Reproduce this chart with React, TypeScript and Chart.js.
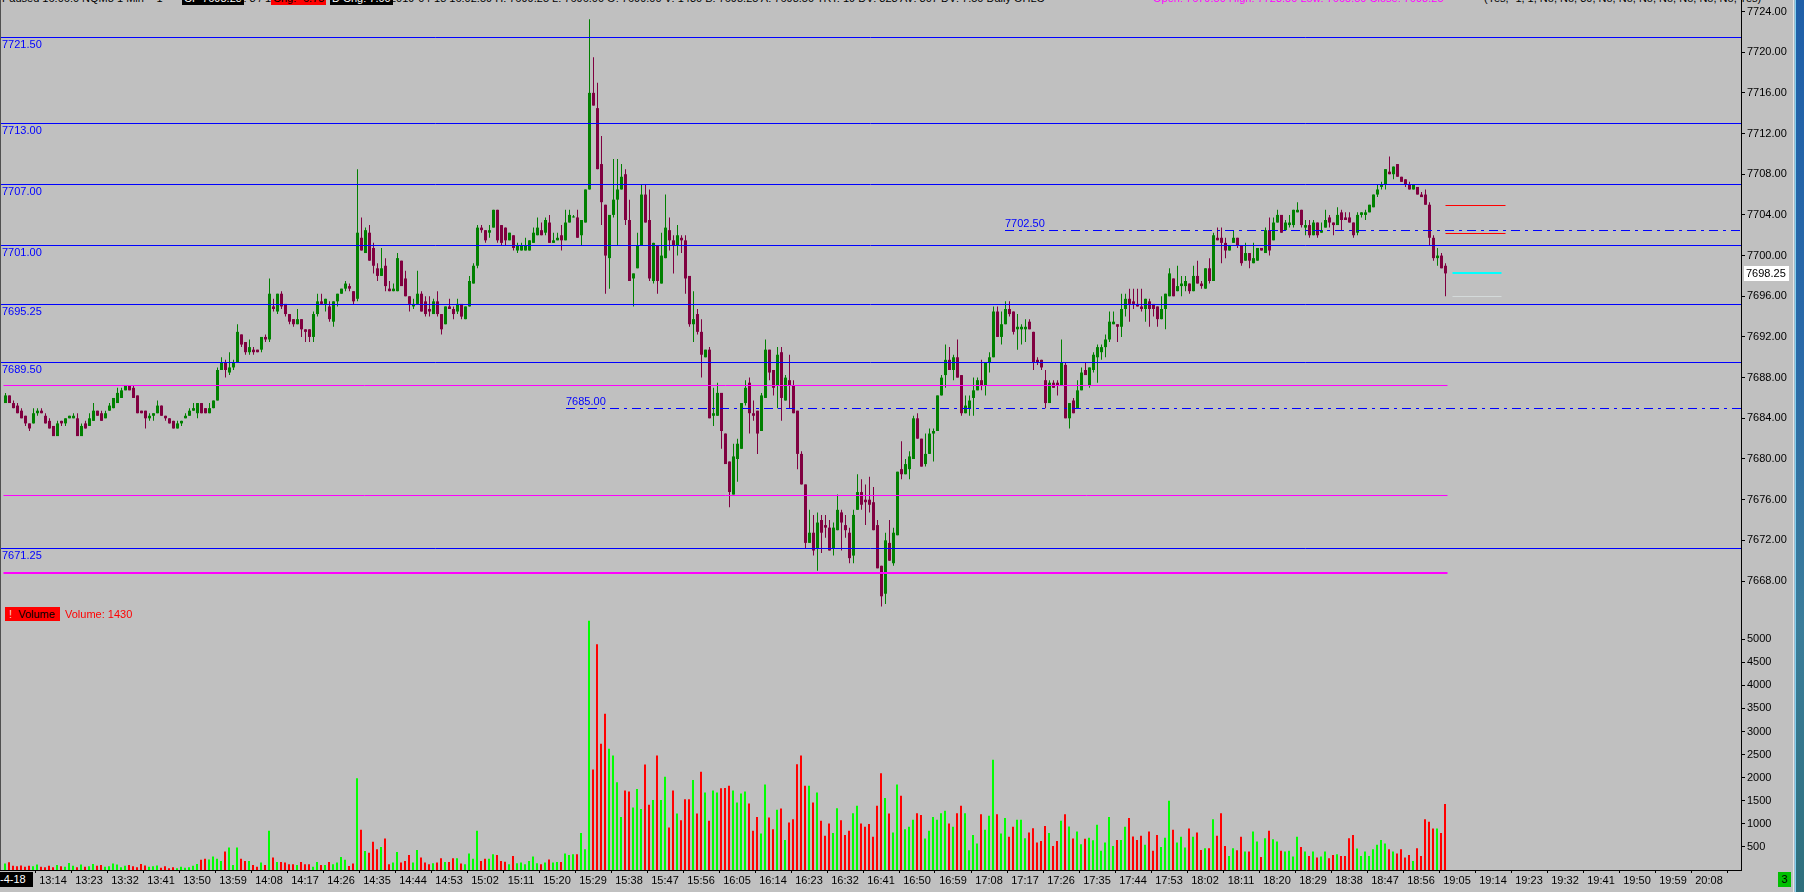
import React, { useEffect, useRef } from "react";
import { Chart, registerables } from "chart.js";

Chart.register(...registerables);

const FONT = "'Liberation Sans', Arial, sans-serif";

// ---------------- DATA ----------------
const firstBarTime = "13:02";

const opens = [
  7685.5, 7686.25, 7685.5, 7685.25, 7684.75, 7684.25, 7683.5, 7683.5, 7684.5, 7684.75,
  7684.25, 7683.75, 7683.25, 7682.25, 7683.75, 7683.5, 7684.0, 7684.0, 7684.0, 7682.25,
  7683.5, 7683.25, 7683.75, 7684.75, 7684.5, 7684.0, 7684.75, 7685.0, 7685.5, 7686.0,
  7686.75, 7687.25, 7687.0, 7686.25, 7684.75, 7684.75, 7684.0, 7684.25, 7684.5, 7685.25,
  7684.25, 7684.0, 7683.75, 7683.0, 7683.5, 7684.0, 7684.25, 7684.75, 7684.5, 7685.5,
  7685.0, 7684.5, 7685.0, 7685.75, 7688.75, 7689.5, 7688.5, 7689.0, 7689.5, 7692.25,
  7691.5, 7690.5, 7690.75, 7690.75, 7690.75, 7692.0, 7691.75, 7695.0, 7694.5, 7696.25,
  7695.25, 7694.25, 7693.75, 7693.25, 7693.75, 7692.75, 7692.75, 7692.0, 7694.25, 7695.5,
  7695.25, 7695.0, 7693.5, 7695.5, 7696.25, 7696.75, 7697.0, 7696.5, 7695.75, 7701.75,
  7700.25, 7702.25, 7700.75, 7698.75, 7698.0, 7699.0, 7696.75, 7696.5, 7696.5, 7699.5,
  7697.75, 7696.0, 7695.0, 7695.25, 7696.25, 7695.5, 7694.75, 7694.25, 7695.5, 7694.25,
  7693.25, 7695.0, 7694.75, 7694.5, 7695.25, 7693.75, 7695.0, 7697.25, 7699.0, 7702.75,
  7702.5, 7702.25, 7702.75, 7704.5, 7703.0, 7702.75, 7701.5, 7702.0, 7700.5, 7700.5,
  7700.5, 7700.5, 7701.25, 7702.0, 7702.5, 7702.25, 7703.25, 7701.25, 7701.5, 7702.0,
  7701.5, 7703.25, 7703.75, 7703.75, 7702.0, 7703.25, 7706.5, 7716.0, 7714.5, 7709.0,
  7705.0, 7699.75, 7704.0, 7705.5, 7706.5, 7708.0, 7703.5, 7697.75, 7698.75, 7701.0,
  7706.0, 7703.5, 7697.5, 7701.0, 7697.25, 7699.75, 7702.5, 7701.5, 7701.0, 7701.75,
  7701.5, 7698.0, 7693.25, 7694.25, 7692.5, 7690.0, 7690.75, 7684.25, 7684.25, 7686.5,
  7682.5, 7679.75, 7676.5, 7680.0, 7681.0, 7685.5, 7687.5, 7684.5, 7684.75, 7682.75,
  7686.0, 7690.75, 7688.75, 7687.25, 7690.5, 7685.75, 7687.75, 7687.25, 7684.75, 7680.5,
  7677.5, 7671.75, 7672.75, 7671.25, 7674.0, 7673.5, 7673.25, 7671.25, 7673.0, 7674.75,
  7673.5, 7672.75, 7670.5, 7675.0, 7676.75, 7676.0, 7676.0, 7675.75, 7673.5, 7669.5,
  7666.75, 7671.75, 7669.75, 7672.5, 7679.0, 7678.5, 7679.0, 7680.0, 7684.0, 7682.0,
  7679.5, 7680.5, 7682.5, 7682.75, 7686.25, 7688.25, 7689.75, 7688.75, 7690.0, 7688.25,
  7684.5, 7685.0, 7686.0, 7686.75, 7687.75, 7687.25, 7689.5, 7690.0, 7694.5, 7692.0,
  7693.25, 7694.75, 7694.5, 7692.75, 7692.75, 7692.75, 7693.5, 7692.5, 7689.75, 7689.75,
  7687.75, 7685.5, 7687.5, 7687.5, 7687.25, 7689.25, 7684.0, 7685.75, 7685.0, 7686.75,
  7688.75, 7687.25, 7688.75, 7690.0, 7690.5, 7691.0, 7691.75, 7693.25, 7693.25, 7693.0,
  7694.75, 7695.75, 7695.5, 7695.25, 7695.0, 7694.75, 7695.5, 7695.25, 7695.0, 7693.75,
  7694.75, 7696.0, 7697.75, 7696.5, 7697.0, 7697.0, 7697.25, 7696.5, 7698.0, 7697.25,
  7696.75, 7698.75, 7697.5, 7701.75, 7701.75, 7701.25, 7700.5, 7701.25, 7701.75, 7701.0,
  7699.5, 7700.25, 7699.25, 7699.5, 7700.75, 7700.25, 7702.5, 7701.5, 7703.25, 7704.0,
  7702.5, 7703.0, 7703.0, 7704.25, 7704.5, 7702.75, 7703.0, 7702.0, 7703.25, 7702.25,
  7702.75, 7703.75, 7703.25, 7703.0, 7704.25, 7703.75, 7703.75, 7703.25, 7702.25, 7704.0,
  7704.0, 7704.25, 7704.75, 7706.0, 7706.75, 7707.0, 7708.25, 7708.0, 7709.0, 7707.75,
  7707.5, 7707.0, 7706.5, 7706.75, 7706.0, 7706.0, 7705.0, 7701.75, 7699.75, 7700.0,
  7699.0,
];

const highs = [
  7686.5, 7686.25, 7685.75, 7685.5, 7685.0, 7684.25, 7683.5, 7685.0, 7685.0, 7685.0,
  7684.5, 7684.0, 7683.25, 7683.75, 7683.75, 7684.0, 7684.25, 7684.5, 7684.5, 7683.5,
  7683.75, 7684.5, 7685.5, 7684.75, 7684.75, 7684.75, 7685.5, 7686.0, 7687.0, 7687.0,
  7687.25, 7687.25, 7687.25, 7686.25, 7684.75, 7684.75, 7684.5, 7684.5, 7685.75, 7685.25,
  7684.25, 7684.0, 7683.75, 7683.75, 7683.75, 7684.5, 7685.0, 7685.5, 7685.5, 7685.5,
  7685.0, 7685.5, 7685.75, 7689.0, 7690.0, 7689.75, 7690.5, 7689.75, 7693.25, 7692.25,
  7691.5, 7691.75, 7691.0, 7690.75, 7692.0, 7692.25, 7697.75, 7695.75, 7696.25, 7696.5,
  7695.25, 7694.25, 7693.75, 7694.75, 7693.75, 7692.75, 7692.75, 7694.5, 7696.25, 7696.25,
  7695.75, 7695.5, 7695.5, 7696.25, 7696.75, 7697.5, 7697.25, 7696.5, 7708.5, 7703.75,
  7702.75, 7703.0, 7701.25, 7699.25, 7700.75, 7699.75, 7697.5, 7697.25, 7700.25, 7699.5,
  7698.5, 7696.0, 7695.75, 7698.5, 7696.5, 7696.0, 7696.0, 7695.75, 7696.5, 7694.25,
  7695.0, 7695.75, 7695.0, 7695.75, 7695.25, 7695.0, 7698.0, 7699.25, 7703.0, 7703.0,
  7702.5, 7703.0, 7704.5, 7704.5, 7703.0, 7702.75, 7702.25, 7702.0, 7701.25, 7701.25,
  7701.75, 7701.5, 7702.75, 7703.75, 7703.25, 7703.75, 7704.0, 7702.25, 7702.25, 7703.0,
  7704.5, 7704.5, 7704.0, 7704.5, 7703.5, 7706.5, 7723.25, 7719.5, 7717.0, 7711.75,
  7705.0, 7704.0, 7709.5, 7709.5, 7709.0, 7708.5, 7705.5, 7698.25, 7702.25, 7707.0,
  7707.0, 7706.5, 7701.25, 7701.0, 7702.25, 7706.0, 7703.75, 7702.0, 7703.0, 7702.0,
  7702.0, 7698.0, 7696.5, 7694.75, 7693.75, 7690.75, 7691.0, 7687.0, 7687.5, 7686.5,
  7682.5, 7679.75, 7681.5, 7682.0, 7685.5, 7687.75, 7688.0, 7685.75, 7684.75, 7686.5,
  7691.75, 7690.75, 7688.75, 7691.0, 7691.0, 7688.25, 7690.25, 7687.75, 7684.75, 7680.75,
  7677.5, 7675.0, 7674.5, 7674.75, 7674.5, 7674.5, 7674.0, 7673.75, 7676.5, 7675.0,
  7674.5, 7673.25, 7675.0, 7678.5, 7678.0, 7677.5, 7678.25, 7677.25, 7674.0, 7669.5,
  7672.75, 7674.0, 7673.25, 7678.75, 7681.75, 7680.0, 7680.75, 7684.25, 7684.5, 7682.0,
  7682.5, 7683.0, 7683.0, 7686.25, 7688.25, 7691.25, 7691.0, 7690.25, 7691.75, 7688.25,
  7686.25, 7686.25, 7688.0, 7688.0, 7689.75, 7689.5, 7690.5, 7695.0, 7695.0, 7694.5,
  7695.5, 7695.5, 7694.5, 7694.25, 7693.25, 7693.75, 7693.75, 7692.5, 7690.0, 7689.75,
  7688.75, 7687.75, 7687.75, 7687.75, 7691.75, 7689.5, 7685.5, 7686.0, 7687.75, 7689.0,
  7689.5, 7689.0, 7690.5, 7691.25, 7691.25, 7692.25, 7694.5, 7694.5, 7693.25, 7696.25,
  7696.25, 7696.75, 7696.75, 7696.75, 7696.75, 7695.75, 7695.75, 7695.25, 7695.0, 7696.0,
  7696.25, 7698.75, 7697.75, 7699.0, 7698.0, 7698.0, 7697.25, 7699.0, 7699.5, 7697.5,
  7698.75, 7699.75, 7702.25, 7702.75, 7702.75, 7701.75, 7701.0, 7702.5, 7701.75, 7701.0,
  7701.25, 7700.25, 7701.25, 7700.75, 7700.75, 7702.75, 7703.75, 7703.75, 7704.5, 7704.0,
  7703.5, 7704.0, 7704.5, 7705.25, 7704.5, 7703.5, 7703.5, 7703.5, 7703.25, 7703.25,
  7704.5, 7704.0, 7703.25, 7704.75, 7704.5, 7704.25, 7704.25, 7703.25, 7704.25, 7704.25,
  7704.5, 7705.0, 7706.0, 7707.0, 7707.25, 7708.5, 7709.75, 7708.75, 7709.0, 7707.75,
  7707.5, 7707.25, 7707.0, 7706.75, 7706.25, 7706.5, 7705.25, 7702.0, 7700.75, 7700.25,
  7699.25,
];

const lows = [
  7685.5, 7685.5, 7685.0, 7684.5, 7684.0, 7683.25, 7682.75, 7683.5, 7684.25, 7684.5,
  7683.5, 7683.0, 7682.25, 7682.25, 7683.25, 7683.25, 7684.0, 7684.0, 7682.25, 7682.25,
  7683.0, 7683.25, 7683.75, 7684.25, 7683.75, 7684.0, 7684.75, 7685.0, 7685.5, 7686.0,
  7686.75, 7686.75, 7686.0, 7684.5, 7684.5, 7683.0, 7683.75, 7683.75, 7684.5, 7684.25,
  7683.75, 7683.5, 7683.0, 7683.0, 7683.25, 7684.0, 7684.25, 7684.75, 7684.0, 7684.5,
  7684.5, 7684.5, 7685.0, 7685.75, 7688.75, 7688.0, 7688.25, 7688.75, 7689.5, 7691.0,
  7690.25, 7690.25, 7690.25, 7690.5, 7690.5, 7691.5, 7691.5, 7694.5, 7694.25, 7694.75,
  7694.0, 7693.25, 7693.0, 7693.25, 7692.0, 7691.5, 7691.5, 7691.5, 7694.0, 7695.25,
  7694.5, 7693.5, 7693.0, 7695.0, 7696.25, 7696.5, 7696.5, 7695.25, 7695.5, 7700.5,
  7700.25, 7699.5, 7698.25, 7697.5, 7698.0, 7696.5, 7696.5, 7696.5, 7696.5, 7697.0,
  7696.0, 7694.5, 7694.75, 7695.25, 7694.5, 7694.0, 7694.0, 7694.25, 7694.0, 7692.25,
  7693.25, 7694.75, 7693.75, 7694.25, 7693.75, 7693.75, 7695.0, 7697.25, 7698.75, 7702.25,
  7701.25, 7701.75, 7702.75, 7701.25, 7701.0, 7701.0, 7701.5, 7700.5, 7700.25, 7700.5,
  7700.5, 7700.5, 7701.25, 7702.0, 7702.0, 7702.0, 7701.25, 7701.25, 7701.5, 7700.5,
  7701.5, 7703.25, 7703.75, 7701.75, 7701.0, 7703.25, 7706.5, 7714.75, 7708.5, 7703.0,
  7696.25, 7696.75, 7703.75, 7701.0, 7706.5, 7703.0, 7697.5, 7695.0, 7698.75, 7701.0,
  7703.25, 7697.5, 7697.25, 7696.25, 7697.25, 7699.75, 7700.5, 7698.25, 7700.0, 7700.25,
  7696.25, 7693.0, 7691.5, 7692.25, 7688.0, 7690.0, 7684.0, 7683.25, 7684.25, 7681.0,
  7679.5, 7675.25, 7676.5, 7677.75, 7681.0, 7685.25, 7682.5, 7683.75, 7680.5, 7682.75,
  7686.0, 7687.75, 7686.25, 7685.0, 7683.75, 7685.75, 7685.0, 7684.5, 7679.0, 7677.5,
  7671.25, 7671.75, 7670.5, 7669.0, 7670.75, 7672.25, 7671.0, 7670.5, 7673.0, 7671.0,
  7672.25, 7669.75, 7669.75, 7675.0, 7675.0, 7673.5, 7674.75, 7673.0, 7669.25, 7665.5,
  7665.75, 7670.0, 7669.5, 7672.5, 7678.0, 7678.5, 7678.0, 7680.0, 7682.0, 7679.25,
  7679.25, 7680.5, 7679.75, 7682.75, 7686.25, 7687.0, 7688.75, 7687.75, 7688.0, 7684.25,
  7684.5, 7684.25, 7684.25, 7686.75, 7686.75, 7686.25, 7688.5, 7690.0, 7692.0, 7691.25,
  7693.25, 7694.0, 7692.25, 7690.75, 7691.25, 7691.5, 7692.75, 7688.75, 7689.25, 7688.75,
  7685.0, 7685.5, 7687.0, 7686.25, 7687.25, 7684.0, 7683.0, 7684.5, 7685.0, 7686.75,
  7688.25, 7687.0, 7688.5, 7687.5, 7689.75, 7690.0, 7691.5, 7693.25, 7691.5, 7692.0,
  7694.0, 7693.5, 7694.75, 7695.0, 7694.5, 7693.5, 7693.0, 7694.0, 7693.0, 7693.75,
  7692.75, 7696.0, 7696.0, 7696.5, 7696.0, 7696.5, 7696.25, 7696.5, 7697.25, 7696.75,
  7696.75, 7697.25, 7697.5, 7701.5, 7699.25, 7699.75, 7700.5, 7701.25, 7700.75, 7699.0,
  7699.5, 7698.75, 7699.25, 7699.5, 7700.5, 7700.25, 7700.0, 7701.5, 7703.25, 7702.25,
  7702.5, 7702.75, 7702.75, 7704.25, 7702.75, 7702.0, 7701.75, 7702.0, 7701.75, 7702.25,
  7702.75, 7702.75, 7702.0, 7703.0, 7702.5, 7703.5, 7703.25, 7701.75, 7702.0, 7703.75,
  7703.5, 7704.25, 7704.75, 7705.75, 7706.5, 7706.5, 7708.0, 7707.5, 7707.75, 7707.25,
  7706.75, 7706.5, 7706.5, 7706.0, 7705.75, 7705.0, 7701.0, 7699.5, 7699.0, 7698.75,
  7696.0,
];

const closes = [
  7686.25, 7685.5, 7685.0, 7684.5, 7684.0, 7683.5, 7683.0, 7684.5, 7684.75, 7684.5,
  7683.5, 7683.0, 7682.25, 7683.5, 7683.5, 7684.0, 7684.25, 7684.25, 7682.25, 7683.25,
  7683.0, 7684.0, 7684.75, 7684.25, 7683.75, 7684.5, 7685.25, 7686.0, 7686.5, 7686.75,
  7687.25, 7686.75, 7686.0, 7684.5, 7684.5, 7684.0, 7684.25, 7684.5, 7685.25, 7684.25,
  7684.0, 7683.5, 7683.0, 7683.5, 7683.75, 7684.25, 7684.75, 7685.0, 7685.5, 7684.5,
  7684.5, 7685.0, 7685.75, 7688.75, 7689.5, 7688.75, 7689.0, 7689.5, 7692.5, 7691.25,
  7690.5, 7691.0, 7690.5, 7690.5, 7692.0, 7691.75, 7696.25, 7694.75, 7696.25, 7695.0,
  7694.25, 7693.5, 7693.25, 7693.75, 7692.75, 7692.5, 7692.0, 7694.25, 7695.5, 7695.25,
  7695.75, 7693.75, 7695.5, 7696.25, 7696.75, 7697.25, 7696.75, 7695.5, 7702.25, 7700.5,
  7702.5, 7699.5, 7699.0, 7698.0, 7698.75, 7697.0, 7696.5, 7696.75, 7699.75, 7697.0,
  7696.0, 7695.25, 7695.25, 7696.25, 7694.5, 7694.25, 7694.5, 7695.5, 7694.25, 7692.75,
  7695.0, 7694.75, 7694.25, 7695.25, 7694.0, 7695.0, 7697.5, 7699.0, 7702.75, 7702.5,
  7701.5, 7702.5, 7704.5, 7701.5, 7701.25, 7701.5, 7702.25, 7700.75, 7701.0, 7701.0,
  7701.0, 7701.5, 7702.25, 7702.75, 7702.0, 7703.5, 7701.25, 7701.5, 7701.75, 7701.5,
  7703.25, 7704.0, 7703.75, 7701.75, 7703.5, 7706.5, 7716.0, 7714.75, 7708.5, 7705.25,
  7700.0, 7704.0, 7705.5, 7706.5, 7707.75, 7703.5, 7697.5, 7698.25, 7701.0, 7706.0,
  7703.25, 7697.75, 7701.25, 7697.5, 7700.0, 7702.75, 7701.5, 7701.0, 7702.0, 7701.5,
  7697.75, 7693.25, 7693.75, 7692.5, 7690.25, 7690.75, 7684.0, 7684.5, 7686.5, 7682.75,
  7679.5, 7676.75, 7680.25, 7681.5, 7685.5, 7687.0, 7684.5, 7684.25, 7682.5, 7686.25,
  7690.75, 7688.5, 7687.0, 7690.25, 7686.0, 7688.0, 7687.25, 7684.5, 7680.5, 7677.5,
  7671.75, 7672.75, 7671.0, 7673.75, 7672.75, 7673.25, 7671.0, 7673.25, 7675.0, 7673.75,
  7673.0, 7670.25, 7674.5, 7676.75, 7675.5, 7675.75, 7675.5, 7673.0, 7669.25, 7666.5,
  7672.0, 7670.0, 7672.75, 7678.75, 7678.5, 7679.5, 7680.25, 7684.0, 7682.0, 7679.25,
  7680.5, 7682.5, 7682.75, 7686.25, 7688.0, 7689.75, 7688.75, 7690.0, 7688.0, 7684.5,
  7685.25, 7685.75, 7686.75, 7687.75, 7687.25, 7689.5, 7690.0, 7694.5, 7692.0, 7693.25,
  7694.75, 7694.25, 7692.5, 7693.0, 7693.0, 7693.0, 7692.75, 7689.5, 7689.5, 7689.0,
  7685.5, 7687.5, 7687.0, 7687.25, 7689.5, 7684.0, 7685.5, 7684.5, 7686.75, 7688.5,
  7688.25, 7689.0, 7690.25, 7691.0, 7691.0, 7691.75, 7693.5, 7693.5, 7693.0, 7694.75,
  7695.75, 7695.25, 7695.25, 7695.0, 7694.75, 7695.75, 7694.75, 7694.75, 7693.75, 7694.75,
  7696.25, 7698.25, 7696.0, 7697.0, 7697.25, 7697.5, 7696.5, 7698.0, 7697.25, 7697.0,
  7698.75, 7697.5, 7702.0, 7701.5, 7701.25, 7700.5, 7701.0, 7701.75, 7701.0, 7699.25,
  7700.25, 7699.5, 7699.75, 7700.75, 7700.5, 7702.5, 7700.5, 7703.25, 7704.0, 7702.25,
  7703.25, 7703.25, 7704.5, 7704.5, 7703.0, 7703.0, 7702.0, 7703.25, 7702.0, 7702.5,
  7703.5, 7703.25, 7703.0, 7704.0, 7703.5, 7703.5, 7703.25, 7702.0, 7704.0, 7704.25,
  7704.25, 7705.0, 7706.0, 7706.5, 7707.0, 7708.5, 7708.0, 7708.75, 7707.75, 7707.25,
  7707.0, 7706.5, 7707.0, 7706.0, 7705.75, 7705.0, 7701.75, 7699.75, 7700.0, 7698.75,
  7698.25,
];

const volumes = [
  140, 170, 90, 80, 100, 70, 90, 80, 120, 70,
  60, 90, 60, 110, 80, 70, 150, 90, 60, 120,
  70, 80, 130, 90, 110, 70, 80, 140, 120, 60,
  90, 110, 80, 60, 130, 100, 70, 80, 100, 50,
  80, 40, 60, 40, 70, 50, 60, 90, 130,
  220, 245, 230, 290, 245, 195, 400, 485, 110, 485,
  245, 195, 195, 110, 70, 160, 110, 850, 270, 175,
  175, 160, 125, 125, 110, 175, 125, 125, 70, 175,
  110, 110, 175, 125, 160, 280, 220, 85, 140, 1990,
  870, 410, 375, 610, 450, 500, 680, 125, 160, 390,
  160, 195, 325, 160, 435, 270, 160, 125, 145, 160,
  255, 175, 175, 255, 255, 140, 125, 360, 245, 850,
  195, 245, 245, 340, 325, 195, 180, 125, 305, 145,
  160, 125, 195, 290, 145, 125, 160, 230, 160, 175,
  175, 360, 325, 340, 340, 800, 450,
  5400, 2175, 4890, 2735, 3385, 2625, 2480, 1900, 1150, 1720,
  1700, 1355, 1755, 1320, 2285, 1415, 1515, 2480, 1515, 2020,
  920, 1720, 1225, 1080, 1535, 1535, 1950, 1225, 2130, 1680,
  1065, 1720, 1680, 1770, 1775, 1825, 1720, 1465, 1660, 1700,
  1440, 850, 1150, 790, 1850, 1140, 885, 1305, 1335, 650,
  1030, 1100, 2290, 2480, 1825, 1825, 1465, 1680, 1065, 740,
  1010, 800, 1340, 1080, 760, 850, 1230, 1390, 1010, 935,
  995, 720, 1390, 2095, 1560, 1225, 810, 1850, 1610, 885,
  935, 1090, 1230, 1190, 680, 850, 1150, 1090, 1230, 1285,
  1010, 935, 1230, 1390, 1230, 430, 760, 575, 1210, 870,
  1175, 2390, 1210, 790, 1125, 720, 935, 1090, 1090, 690,
  810, 905, 595, 630, 955, 800, 520, 630, 1065, 1210,
  940, 680, 835, 560, 675, 700, 645, 980, 415, 595,
  1150, 520, 650, 650, 935, 1125, 725, 650, 740, 545,
  835, 415, 760, 500, 700, 1500, 870, 595, 720, 485,
  900, 720, 810, 435, 470, 470, 1100, 740, 1230, 520,
  305, 470, 430, 720, 400, 400, 835, 615, 280, 690,
  850, 665, 615, 415, 400, 415, 290, 720, 500, 400,
  305, 400, 270, 290, 400, 255, 325, 340, 305, 305,
  690, 760, 465, 305, 400, 305, 450, 545, 650, 575,
  450, 400, 355, 450, 270, 325, 195, 470, 305, 1100,
  1045, 900, 900, 800, 1430,
];

const timeTicks = [
  "13:14", "13:23", "13:32", "13:41", "13:50", "13:59", "14:08", "14:17", "14:26", "14:35",
  "14:44", "14:53", "15:02", "15:11", "15:20", "15:29", "15:38", "15:47", "15:56", "16:05",
  "16:14", "16:23", "16:32", "16:41", "16:50", "16:59", "17:08", "17:17", "17:26", "17:35",
  "17:44", "17:53", "18:02", "18:11", "18:20", "18:29", "18:38", "18:47", "18:56", "19:05",
  "19:14", "19:23", "19:32", "19:41", "19:50", "19:59", "20:08",
];
const priceTicks = [7668, 7672, 7676, 7680, 7684, 7688, 7692, 7696, 7700, 7704, 7708, 7712, 7716, 7720, 7724];
const volumeTicks = [500, 1000, 1500, 2000, 2500, 3000, 3500, 4000, 4500, 5000];

const blueLevels = [7721.5, 7713.0, 7707.0, 7701.0, 7695.25, 7689.5, 7671.25];
const dashDotLevels = [7702.5, 7685.0];
const dashDotStarts = ["17:12", "15:22"];
const magentaLevels = [7687.25, 7676.5, 7668.75];
const redMarkers = [7705.0, 7702.25];
const cyanMarkers = [7698.25, 7696.0];
const lastVolume = 1430;

// ---------------- LAYOUT / STYLE ----------------
const W = 1793;
const PLOT_RIGHT = 1741;
const AXIS_W = W - PLOT_RIGHT;
const PRICE_H = 607;
const VOL_TOP = 600;
const VOL_H = 292;
const XAXIS_H = 22;
const X_MIN = 0.625;
const X_MAX = 435.875;
const P_MAX = 7725.131;
const P_MIN = 7665.446;
const V_MAX = 5850;

const BG = "#c0c0c0";
const UP = "#008000";
const DOWN = "#800040";
const VUP = "#00ff00";
const VDOWN = "#ff0000";
const BLUE = "#0000ff";
const MAGENTA = "#ff00ff";

function toMin(t: string): number {
  const [h, m] = t.split(":").map(Number);
  return (h - 13) * 60 + m;
}

const start = toMin(firstBarTime);
const isUp = opens.map((o, i) => closes[i] >= o);

const priceOverlay = {
  id: "priceOverlay",
  afterDatasetsDraw(chart: any) {
    const { ctx, chartArea: ca, scales } = chart;
    const xs = scales.x;
    const ys = scales.y;
    const py = (p: number) => Math.round(ys.getPixelForValue(p)) + 0.5;
    const px = (m: number) => xs.getPixelForValue(m);
    const lastX = start + closes.length - 1;
    ctx.save();
    ctx.beginPath();
    ctx.rect(ca.left, ca.top, ca.right - ca.left, ca.bottom - ca.top);
    ctx.clip();
    ctx.font = `11px ${FONT}`;
    ctx.textAlign = "left";

    magentaLevels.forEach((p, i) => {
      ctx.strokeStyle = MAGENTA;
      ctx.lineWidth = i === magentaLevels.length - 1 ? 2 : 1;
      const y = i === magentaLevels.length - 1 ? Math.round(ys.getPixelForValue(p)) : py(p);
      ctx.beginPath();
      ctx.moveTo(px(start) - 2, y);
      ctx.lineTo(px(lastX) + 2, y);
      ctx.stroke();
    });

    blueLevels.forEach((p) => {
      const y = py(p);
      ctx.strokeStyle = BLUE;
      ctx.lineWidth = 1;
      ctx.beginPath();
      ctx.moveTo(ca.left, y);
      ctx.lineTo(ca.right, y);
      ctx.stroke();
      ctx.fillStyle = BLUE;
      ctx.textBaseline = "top";
      ctx.fillText(p.toFixed(2), ca.left + 2, y + 1.5);
    });

    dashDotLevels.forEach((p, i) => {
      const y = py(p);
      const x0 = Math.round(px(toMin(dashDotStarts[i])));
      ctx.strokeStyle = BLUE;
      ctx.lineWidth = 1;
      ctx.setLineDash([9, 5, 3, 5]);
      ctx.beginPath();
      ctx.moveTo(x0, y);
      ctx.lineTo(ca.right, y);
      ctx.stroke();
      ctx.setLineDash([]);
      ctx.fillStyle = BLUE;
      ctx.textBaseline = "bottom";
      ctx.fillText(p.toFixed(2), x0, y - 1.5);
    });

    redMarkers.forEach((p) => {
      ctx.strokeStyle = "#ff0000";
      ctx.lineWidth = 1;
      ctx.beginPath();
      ctx.moveTo(px(lastX), py(p));
      ctx.lineTo(px(lastX + 15), py(p));
      ctx.stroke();
    });
    cyanMarkers.forEach((p, i) => {
      ctx.strokeStyle = i === 0 ? "#00ffff" : "#d4dada";
      ctx.lineWidth = i === 0 ? 2 : 1;
      const y = i === 0 ? Math.round(ys.getPixelForValue(p)) : py(p);
      ctx.beginPath();
      ctx.moveTo(px(lastX + 1.75), y);
      ctx.lineTo(px(lastX + 14), y);
      ctx.stroke();
    });
    ctx.restore();
  },
  afterDraw(chart: any) {
    const { ctx, scales } = chart;
    const ys = scales.y;
    const last = closes[closes.length - 1];
    const y = Math.round(ys.getPixelForValue(last));
    ctx.save();
    ctx.fillStyle = "#ffffff";
    ctx.fillRect(PLOT_RIGHT + 3, y - 7, 45, 15);
    ctx.fillStyle = "#000000";
    ctx.font = `11px ${FONT}`;
    ctx.textAlign = "left";
    ctx.textBaseline = "middle";
    ctx.fillText(last.toFixed(2), PLOT_RIGHT + 5, y + 0.5);
    ctx.restore();
  },
};

const headerSpans: { text: string; left: number; color: string; bg?: string }[] = [
  { text: "Paused 16:06:0 NQM8 1 Min  = 1", left: 2, color: "#000" },
  { text: "CP 7698.25", left: 182, color: "#fff", bg: "#000" },
  { text: "T: 3 / 1", left: 238, color: "#000" },
  { text: "Chg: -6.75", left: 271, color: "#000", bg: "#ff0000" },
  { text: "D Chg: 7.00", left: 330, color: "#fff", bg: "#000" },
  { text: "2019-04-18 16:02:59 H: 7699.25 L: 7696.00 O: 7699.00 V: 1430 B: 7698.25 A: 7698.50 TRT: 19 DV: 323 AV: 307 DV: 7.50 Daily OHLC", left: 390, color: "#000" },
  { text: "Open: 7679.50  High: 7723.50  Low: 7665.50  Close: 7698.25", left: 1153, color: "#ff00ff" },
  { text: "(Yes, -1, 1, No, No, 30, No, No, No, No, No, No, No, Yes)", left: 1484, color: "#000" },
];

export default function App() {
  const priceRef = useRef<HTMLCanvasElement | null>(null);
  const volRef = useRef<HTMLCanvasElement | null>(null);

  useEffect(() => {
    Chart.defaults.font.family = FONT;
    Chart.defaults.font.size = 11;
    Chart.defaults.color = "#000";

    const candleColors = isUp.map((u) => (u ? UP : DOWN));
    const wicks = highs.map((h, i) => ({ x: start + i, y: [lows[i], h] }));
    const bodies = opens.map((o, i) => ({ x: start + i, y: [o, closes[i]] }));

    const priceChart = new Chart(priceRef.current as HTMLCanvasElement, {
      type: "bar",
      data: {
        datasets: [
          {
            data: wicks as any,
            backgroundColor: candleColors,
            barThickness: 1,
            grouped: false,
            minBarLength: 1,
            inflateAmount: 0,
            borderWidth: 0,
          } as any,
          {
            data: bodies as any,
            backgroundColor: candleColors,
            barThickness: 3,
            grouped: false,
            minBarLength: 1,
            inflateAmount: 0,
            borderWidth: 0,
          } as any,
        ],
      },
      options: {
        animation: false,
        responsive: false,
        maintainAspectRatio: false,
        events: [],
        layout: { padding: 0, autoPadding: false } as any,
        plugins: { legend: { display: false }, tooltip: { enabled: false } },
        scales: {
          x: { type: "linear", min: X_MIN, max: X_MAX, display: false, offset: false, bounds: "data" } as any,
          y: {
            position: "right",
            min: P_MIN,
            max: P_MAX,
            bounds: "data",
            beginAtZero: false,
            afterBuildTicks: (s: any) => {
              s.ticks = priceTicks.map((v) => ({ value: v }));
            },
            afterFit: (s: any) => {
              s.width = AXIS_W;
              s.paddingTop = 0;
              s.paddingBottom = 0;
            },
            ticks: {
              callback: (v: any) => Number(v).toFixed(2),
              color: "#000",
              padding: 2,
              autoSkip: false,
              font: { size: 11, family: FONT },
            },
            grid: { drawOnChartArea: false, drawTicks: true, tickLength: 4, color: "#000" },
            border: { display: true, color: "#000", width: 1 },
          } as any,
        },
      },
      plugins: [priceOverlay],
    });

    const labelByMinute = new Map<number, string>();
    timeTicks.forEach((t) => labelByMinute.set(toMin(t), t));
    const volData = volumes.map((v, i) => ({ x: start + i, y: v }));
    const volColors = isUp.map((u) => (u ? VUP : VDOWN));

    const volChart = new Chart(volRef.current as HTMLCanvasElement, {
      type: "bar",
      data: {
        datasets: [
          {
            data: volData as any,
            backgroundColor: volColors,
            barThickness: 2,
            grouped: false,
            inflateAmount: 0,
            borderWidth: 0,
          } as any,
        ],
      },
      options: {
        animation: false,
        responsive: false,
        maintainAspectRatio: false,
        events: [],
        layout: { padding: 0, autoPadding: false } as any,
        plugins: { legend: { display: false }, tooltip: { enabled: false } },
        scales: {
          x: {
            type: "linear",
            min: X_MIN + 0.125,
            max: X_MAX + 0.125,
            offset: false,
            bounds: "data",
            afterBuildTicks: (s: any) => {
              s.ticks = timeTicks.map((t) => ({ value: toMin(t) }));
            },
            afterFit: (s: any) => {
              s.height = XAXIS_H;
              s.paddingLeft = 0;
              s.paddingRight = 0;
            },
            ticks: {
              callback: (v: any) => labelByMinute.get(Number(v)) ?? "",
              autoSkip: false,
              maxRotation: 0,
              minRotation: 0,
              padding: 1,
              color: "#000",
              font: { size: 11, family: FONT },
            },
            grid: { drawOnChartArea: false, drawTicks: true, tickLength: 3, color: "#000" },
            border: { display: true, color: "#000", width: 1 },
          } as any,
          y: {
            position: "right",
            min: 0,
            max: V_MAX,
            bounds: "data",
            afterBuildTicks: (s: any) => {
              s.ticks = volumeTicks.map((v) => ({ value: v }));
            },
            afterFit: (s: any) => {
              s.width = AXIS_W;
              s.paddingTop = 0;
              s.paddingBottom = 0;
            },
            ticks: {
              callback: (v: any) => String(v),
              color: "#000",
              padding: 2,
              autoSkip: false,
              font: { size: 11, family: FONT },
            },
            grid: { drawOnChartArea: false, drawTicks: true, tickLength: 4, color: "#000" },
            border: { display: true, color: "#000", width: 1 },
          } as any,
        },
      },
    });

    return () => {
      priceChart.destroy();
      volChart.destroy();
    };
  }, []);

  const txt: React.CSSProperties = { fontFamily: FONT, fontSize: 11, lineHeight: "14px", whiteSpace: "nowrap" };

  return (
    <div style={{ position: "fixed", left: 0, top: 0, width: 1804, height: 892, background: BG, overflow: "hidden" }}>
      {headerSpans.map((s, i) => (
        <span
          key={i}
          style={{ ...txt, position: "absolute", top: -9, left: s.left, color: s.color, background: s.bg, padding: s.bg ? "0 2px" : 0 }}
        >
          {s.text}
        </span>
      ))}
      <canvas
        ref={priceRef}
        width={W}
        height={PRICE_H}
        style={{ position: "absolute", left: 0, top: 0, width: W, height: PRICE_H }}
      />
      <canvas
        ref={volRef}
        width={W}
        height={VOL_H}
        style={{ position: "absolute", left: 0, top: VOL_TOP, width: W, height: VOL_H }}
      />
      <div style={{ position: "absolute", left: 0, top: 0, width: 1, height: 870, background: "#505050" }} />
      <div style={{ ...txt, position: "absolute", left: 5, top: 607, height: 14, background: "#ff0000", padding: "0 5px 0 4px", color: "#000" }}>
        <span style={{ color: "#ffd0d0" }}>!</span>&nbsp; Volume
      </div>
      <div style={{ ...txt, position: "absolute", left: 65, top: 607, color: "#ff0000" }}>Volume: {lastVolume}</div>
      <div style={{ ...txt, position: "absolute", left: 0, top: 872, width: 33, height: 15, background: "#000", color: "#fff", textAlign: "left" }}>
        -4-18
      </div>
      <div style={{ ...txt, position: "absolute", left: 1778, top: 872, width: 13, height: 15, background: "#00c000", color: "#000", textAlign: "center" }}>
        3
      </div>
      <div style={{ position: "absolute", left: 1793, top: 0, width: 1, height: 892, background: "#e6e6e6" }} />
      <div style={{ position: "absolute", left: 1794, top: 0, width: 1, height: 892, background: "#9fb8c8" }} />
      <div style={{ position: "absolute", left: 1795, top: 0, width: 1, height: 892, background: "#7fd0f0" }} />
      <div
        style={{
          position: "absolute",
          left: 1796,
          top: 0,
          width: 8,
          height: 892,
          background: "linear-gradient(180deg, #1f5fa8 0%, #2a6aa8 40%, #3b7d9a 70%, #2e6f7c 100%)",
        }}
      />
    </div>
  );
}
